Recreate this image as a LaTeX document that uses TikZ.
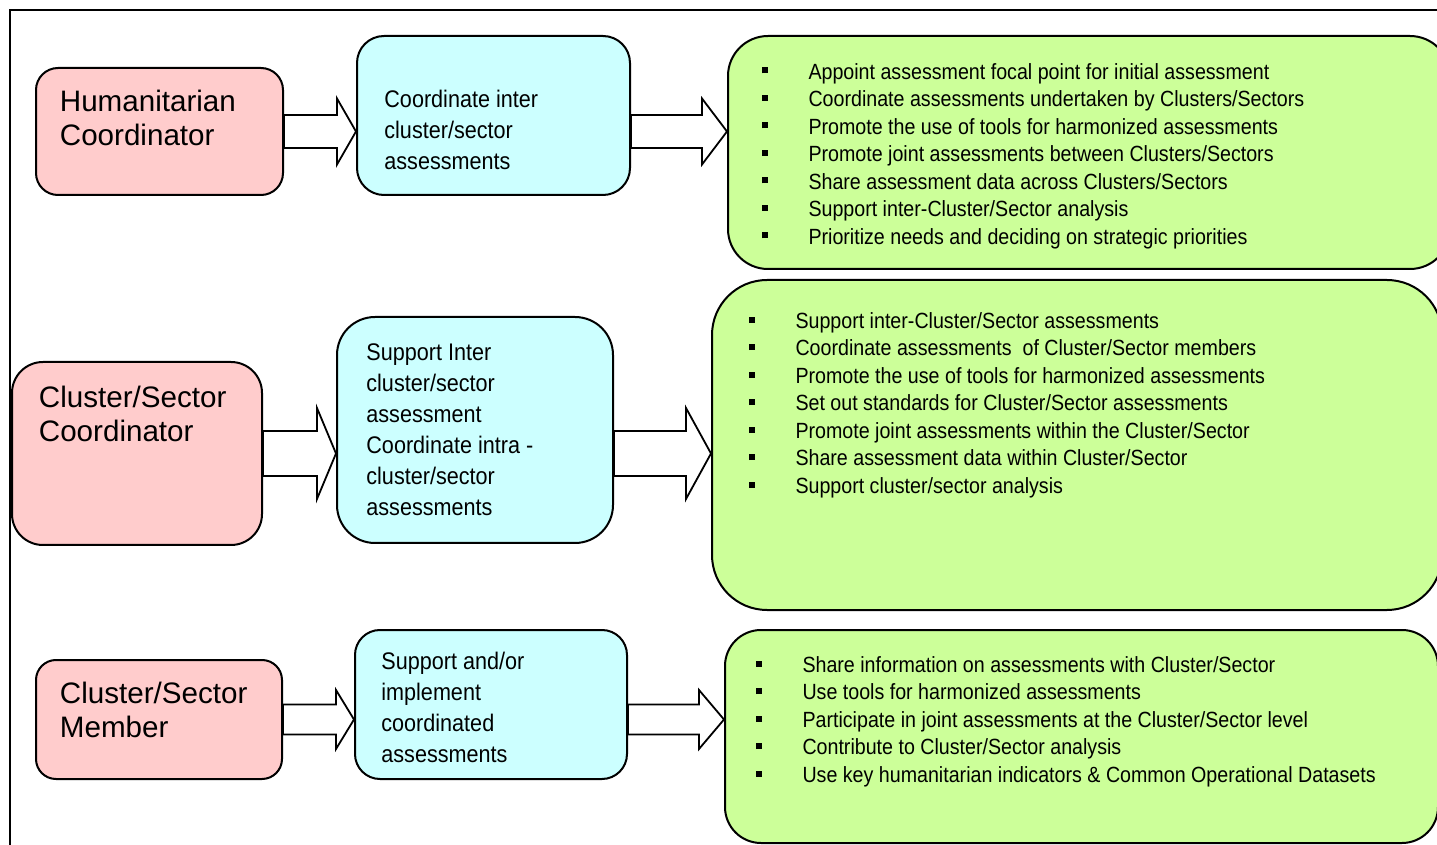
\documentclass[tikz,border=0pt]{standalone}
\usepackage{fontspec}
\setmainfont{Liberation Sans}
\newfontfamily\narrowfont[FakeStretch=0.9]{Liberation Sans}
\newfontfamily\dutyfont[FakeStretch=0.893]{Liberation Sans}
\usetikzlibrary{fit,calc}
\definecolor{rolepink}{HTML}{FFCCCC}
\definecolor{taskcyan}{HTML}{CCFFFF}
\definecolor{dutygreen}{HTML}{CCFF99}

\newcommand{\bul}{\makebox[23.3pt][l]{\raisebox{2.8pt}{\rule{3pt}{3pt}}}}
\newcommand{\fatarrow}[6]{%
  \draw[fatarr] let \p1=(#1.east |- #3.east), \p2=(#2.west |- #3.east) in
    (\x1,\y1+#4) -- (\x2-#6,\y1+#4) -- (\x2-#6,\y1+#5) -- (\x2,\y1)
    -- (\x2-#6,\y1-#5) -- (\x2-#6,\y1-#4) -- (\x1,\y1-#4) -- cycle;}

\tikzset{
  box/.style={draw=black,line width=1pt,inner sep=0pt},
  rolebox/.style={box,fill=rolepink},
  taskbox/.style={box,fill=taskcyan},
  dutybox/.style={box,fill=dutygreen},
  roletxt/.style={anchor=north west,inner sep=0pt,align=left,font=\fontsize{14.8}{17}\selectfont},
  tasktxt/.style={anchor=north west,inner sep=0pt,align=left,font=\narrowfont\fontsize{12}{15.5}\selectfont},
  dutytxt/.style={anchor=north west,inner sep=0pt,align=left,font=\dutyfont\fontsize{11}{13.75}\selectfont},
  fatarr/.style={draw=black,fill=white,line width=0.9pt,line join=miter},
}

\begin{document}
\begin{tikzpicture}[x=0.5pt,y=-0.5pt]
\useasboundingbox (0,0) rectangle (1437,845);
\clip (0,0) rectangle (1437,845);
\draw[line width=0.8pt] (10,10) rectangle (1480,880);

% roles
\node[rolebox,rounded corners=11pt,fit={(36,68) (283,195)}] (hc) {};
\node[rolebox,rounded corners=15.5pt,fit={(12,362) (262,545)}] (csc) {};
\node[rolebox,rounded corners=10pt,fit={(36,660) (282,779)}] (csm) {};
\node[roletxt] (hc-txt) at (59.5,90) {Humanitarian\\Coordinator};
\node[roletxt] (csc-txt) at (38.5,386) {Cluster/Sector\\Coordinator};
\node[roletxt] (csm-txt) at (59.5,682) {Cluster/Sector\\Member};

% tasks
\node[taskbox,rounded corners=13.5pt,fit={(357,36) (630,195)}] (co1) {};
\node[taskbox,rounded corners=19pt,fit={(337,317) (613,543)}] (co2) {};
\node[taskbox,rounded corners=12.5pt,fit={(355,630) (627,779)}] (co3) {};
\node[tasktxt] (co1-txt) at (384,89.5) {Coordinate inter\\cluster/sector\\assessments};
\node[tasktxt] (co2-txt) at (366,343) {Support Inter\\cluster/sector\\assessment\\Coordinate intra -\\cluster/sector\\assessments};
\node[tasktxt] (co3-txt) at (381,651.5) {Support and/or\\implement\\coordinated\\assessments};

% duties
\node[dutybox,rounded corners=20pt,fit={(728,36) (1450,269)}] (gr1) {};
\node[dutybox,rounded corners=27.5pt,fit={(712,280) (1442,610)}] (gr2) {};
\node[dutybox,rounded corners=18pt,fit={(725,630) (1438,843)}] (gr3) {};
\node[dutytxt] (gr1-txt) at (761.5,62.7) {%
  \bul Appoint assessment focal point for initial assessment\\
  \bul Coordinate assessments undertaken by Clusters/Sectors\\
  \bul Promote the use of tools for harmonized assessments\\
  \bul Promote joint assessments between Clusters/Sectors\\
  \bul Share assessment data across Clusters/Sectors\\
  \bul Support inter-Cluster/Sector analysis\\
  \bul Prioritize needs and deciding on strategic priorities};
\node[dutytxt] (gr2-txt) at (748.5,312) {%
  \bul Support inter-Cluster/Sector assessments\\
  \bul Coordinate assessments\ \ of Cluster/Sector members\\
  \bul Promote the use of tools for harmonized assessments\\
  \bul Set out standards for Cluster/Sector assessments\\
  \bul Promote joint assessments within the Cluster/Sector\\
  \bul Share assessment data within Cluster/Sector\\
  \bul Support cluster/sector analysis};
\node[dutytxt] (gr3-txt) at (755.5,656) {%
  \bul Share information on assessments with Cluster/Sector\\
  \bul Use tools for harmonized assessments\\
  \bul Participate in joint assessments at the Cluster/Sector level\\
  \bul Contribute to Cluster/Sector analysis\\
  \bul Use key humanitarian indicators \& Common Operational Datasets};

\fatarrow{hc}{co1}{hc}{8.25pt}{16.5pt}{9.5pt}
\fatarrow{co1}{gr1}{hc}{8.25pt}{16.5pt}{12.5pt}
\fatarrow{csc}{co2}{csc}{11.25pt}{22.75pt}{9.5pt}
\fatarrow{co2}{gr2}{csc}{11.25pt}{22.75pt}{12.5pt}
\fatarrow{csm}{co3}{csm}{7.5pt}{14.75pt}{9pt}
\fatarrow{co3}{gr3}{csm}{7.5pt}{14.75pt}{12.5pt}
\end{tikzpicture}
\end{document}
